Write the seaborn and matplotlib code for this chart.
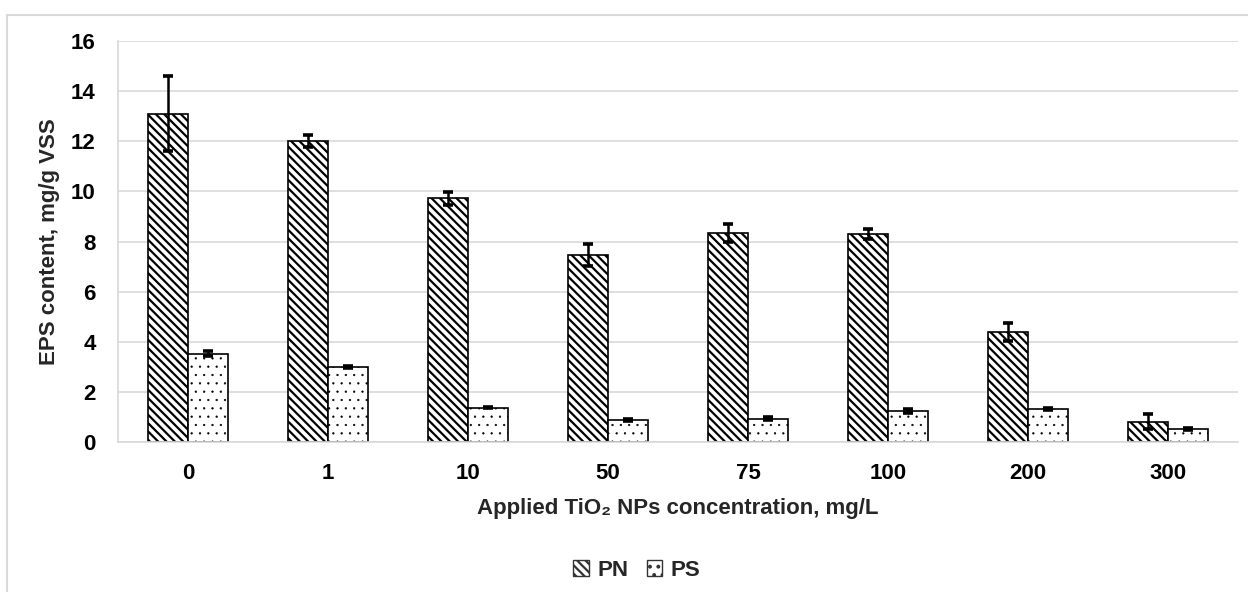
import matplotlib
matplotlib.use("Agg")
import matplotlib.pyplot as plt
import seaborn as sns
import pandas as pd
import numpy as np
from matplotlib.patches import Rectangle, Patch

categories = ["0", "1", "10", "50", "75", "100", "200", "300"]
pn_values = [13.1, 12.0, 9.72, 7.46, 8.35, 8.3, 4.39, 0.81]
pn_errors = [1.5, 0.23, 0.25, 0.43, 0.35, 0.2, 0.37, 0.31]
ps_values = [3.52, 3.0, 1.37, 0.88, 0.93, 1.23, 1.3, 0.51]
ps_errors = [0.1, 0.03, 0.03, 0.05, 0.05, 0.07, 0.04, 0.05]
series = ["PN", "PS"]

sns.set_theme(style="white")
plt.rcParams['font.family'] = ['Liberation Sans', 'DejaVu Sans']
plt.rcParams['font.weight'] = 'bold'
plt.rcParams['hatch.linewidth'] = 1.6
plt.rcParams['hatch.color'] = '#3a3a3a'

FS = 16

df = pd.DataFrame({
    "conc": categories * 2,
    "series": [series[0]] * len(categories) + [series[1]] * len(categories),
    "value": pn_values + ps_values,
})
errs = {series[0]: pn_errors, series[1]: ps_errors}

fig = plt.figure(figsize=(12.48, 5.92), dpi=100)
ax = fig.add_axes([118/1248, 1-442/592, (1238-118)/1248, (442-41)/592])

sns.barplot(data=df, x="conc", y="value", hue="series", order=categories,
            hue_order=series, palette=["white", "white"], width=0.571,
            edgecolor="black", linewidth=1.2, errorbar=None, ax=ax, legend=False,
            saturation=1)

hatches = {series[0]: "\\\\\\\\", series[1]: ".."}
hatch_lw = {series[0]: 1.6, series[1]: 0.4}
for cont, s in zip(ax.containers, series):
    for bar, e in zip(cont, errs[s]):
        bar.set_hatch(hatches[s])
        bar.set_edgecolor("black")
        try:
            bar.set_hatch_linewidth(hatch_lw[s])
        except Exception:
            pass
        cx = bar.get_x() + bar.get_width() / 2
        ax.errorbar(cx, bar.get_height(), yerr=e, fmt="none", ecolor="black",
                    elinewidth=1.8, capsize=3.4, capthick=2.6, zorder=5)

ax.set_ylim(0, 16)
ax.set_yticks(np.arange(0, 17, 2))
ax.set_xlim(-0.5, len(categories) - 0.5)
ax.yaxis.grid(True, color="#d9d9d9", linewidth=1.2)
ax.set_axisbelow(True)
for sp in ["top", "right"]:
    ax.spines[sp].set_visible(False)
ax.spines["left"].set_color("#d9d9d9")
ax.spines["bottom"].set_color("#d9d9d9")
ax.spines["bottom"].set_linewidth(1.2)
ax.tick_params(axis="both", length=0, labelsize=FS, colors="black")
ax.tick_params(axis="x", pad=15)
ax.tick_params(axis="y", pad=16)
for lbl in ax.get_xticklabels() + ax.get_yticklabels():
    lbl.set_fontweight("bold")

ax.set_xlabel("Applied TiO\u2082 NPs concentration, mg/L", fontsize=FS,
              fontweight="bold", labelpad=10)
ax.set_ylabel("EPS content, mg/g VSS", fontsize=FS, fontweight="bold", labelpad=8)

handles = [Patch(facecolor="white", edgecolor="#333333", hatch=hatches[s], label=s)
           for s in series]
fig.legend(handles=handles, loc="center", bbox_to_anchor=(637/1248, 1-570/592), ncol=2,
           frameon=False, handlelength=0.7, handleheight=0.7,
           handletextpad=0.4, columnspacing=0.8, prop={"weight": "bold", "size": FS})

fig.patches.append(Rectangle((7/1248, -0.1), 1.2, 1.1 - 15/592,
                             transform=fig.transFigure, fill=False,
                             edgecolor="#d9d9d9", linewidth=1.5, zorder=-1))

fig.savefig("out.png", dpi=100)
